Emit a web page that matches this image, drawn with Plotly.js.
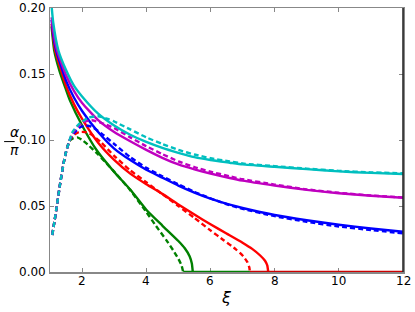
<!DOCTYPE html>
<html>
<head>
<meta charset="utf-8">
<script src="https://cdn.plot.ly/plotly-3.0.1.min.js"></script>
<style>html,body{margin:0;padding:0;background:#fff;}#chart{width:415px;height:312px;}</style>
</head>
<body>
<div id="chart"></div>
<script>
// ---- data (xi, alpha/pi) ----
const cyanSolidX = [1.03, 1.1, 1.26, 1.5, 1.75, 2.0, 2.5, 3.0, 3.5, 4.0, 4.5, 5.0, 5.5, 6.0, 6.6, 7.0, 8.0, 9.0, 10, 11, 12];
const cyanSolidY = [0.207, 0.189, 0.168, 0.153, 0.141, 0.133, 0.120, 0.111, 0.104, 0.0985, 0.094, 0.0903, 0.0870, 0.0848, 0.0828, 0.0815, 0.0797, 0.0779, 0.0762, 0.0751, 0.0742];
const cyanDashX = [1.07, 1.15, 1.21, 1.31, 1.42, 1.5, 1.6, 1.7, 1.9, 2.2, 2.5, 2.8, 3.0, 3.5, 4.0, 4.5, 5.0, 5.5, 6.0, 6.6, 7.0, 8.0, 9.0, 10, 11, 12];
const cyanDashY = [0.028, 0.040, 0.0495, 0.066, 0.082, 0.091, 0.099, 0.106, 0.112, 0.117, 0.118, 0.116, 0.114, 0.108, 0.102, 0.0970, 0.0925, 0.0890, 0.0862, 0.0838, 0.0822, 0.0802, 0.0783, 0.0766, 0.0755, 0.0747];

const magentaSolidX = [1.05, 1.1, 1.22, 1.5, 1.75, 2.0, 2.5, 3.0, 3.5, 4.0, 4.5, 5.0, 5.5, 6.0, 6.6, 7.0, 8.0, 9.0, 10, 11, 12];
const magentaSolidY = [0.193, 0.183, 0.168, 0.149, 0.137, 0.128, 0.115, 0.106, 0.099, 0.0925, 0.0865, 0.0815, 0.0778, 0.0746, 0.0712, 0.0692, 0.0655, 0.0622, 0.0597, 0.0578, 0.0563];
const magentaDashX = [1.07, 1.15, 1.21, 1.31, 1.42, 1.5, 1.6, 1.7, 1.9, 2.1, 2.3, 2.6, 3.0, 3.5, 4.0, 4.5, 5.0, 5.5, 6.0, 6.6, 7.0, 8.0, 9.0, 10, 11, 12];
const magentaDashY = [0.028, 0.040, 0.0495, 0.066, 0.082, 0.091, 0.099, 0.105, 0.111, 0.114, 0.115, 0.113, 0.109, 0.102, 0.0953, 0.0893, 0.0838, 0.0795, 0.0760, 0.0725, 0.0703, 0.0662, 0.0626, 0.0600, 0.0580, 0.0565];

const blueSolidX = [1.05, 1.1, 1.19, 1.5, 1.75, 2.0, 2.5, 3.0, 3.5, 4.0, 4.5, 5.0, 5.5, 6.0, 6.6, 7.0, 8.0, 9.0, 10, 11, 12];
const blueSolidY = [0.191, 0.180, 0.168, 0.145, 0.132, 0.122, 0.106, 0.0935, 0.0848, 0.0775, 0.0715, 0.0655, 0.0602, 0.0556, 0.0510, 0.0485, 0.0432, 0.0392, 0.0358, 0.0330, 0.0305];
const blueDashX = [1.07, 1.15, 1.21, 1.31, 1.42, 1.5, 1.6, 1.7, 1.9, 2.1, 2.3, 2.6, 3.0, 3.5, 4.0, 4.5, 5.0, 5.5, 6.0, 6.6, 7.0, 8.0, 9.0, 10, 11, 12];
const blueDashY = [0.028, 0.040, 0.0495, 0.066, 0.082, 0.091, 0.099, 0.104, 0.109, 0.111, 0.110, 0.105, 0.097, 0.087, 0.079, 0.0725, 0.0665, 0.0607, 0.0558, 0.0506, 0.0478, 0.0423, 0.0380, 0.0345, 0.0318, 0.0293];

const redSolidX = [1.05, 1.1, 1.16, 1.5, 1.75, 2.0, 2.5, 3.0, 3.5, 4.0, 4.5, 5.0, 5.5, 6.0, 6.5, 7.0, 7.3, 7.55, 7.7, 7.77, 7.8];
const redSolidY = [0.188, 0.178, 0.168, 0.141, 0.127, 0.116, 0.098, 0.085, 0.0745, 0.0665, 0.0592, 0.0512, 0.0435, 0.0362, 0.0292, 0.0222, 0.0175, 0.0125, 0.0085, 0.0050, 0.0];
const redDashX = [1.07, 1.15, 1.21, 1.31, 1.42, 1.5, 1.6, 1.7, 1.9, 2.1, 2.3, 2.6, 3.0, 3.5, 4.0, 4.5, 5.0, 5.5, 6.0, 6.4, 6.8, 7.0, 7.15, 7.21, 7.23];
const redDashY = [0.028, 0.040, 0.0495, 0.066, 0.082, 0.091, 0.099, 0.103, 0.106, 0.106, 0.104, 0.098, 0.088, 0.077, 0.068, 0.059, 0.050, 0.041, 0.0315, 0.0243, 0.0170, 0.0125, 0.0075, 0.0035, 0.0];
const redZeroX = [7.23, 12];
const redZeroY = [0, 0];

const greenSolidX = [1.05, 1.13, 1.3, 1.5, 1.62, 2.0, 2.45, 3.0, 3.5, 4.0, 4.5, 5.0, 5.2, 5.35, 5.42, 5.45];
const greenSolidY = [0.186, 0.168, 0.152, 0.138, 0.130, 0.111, 0.0924, 0.0758, 0.0625, 0.0472, 0.0352, 0.0235, 0.0180, 0.0120, 0.0065, 0.0];
const greenDashX = [1.07, 1.15, 1.21, 1.31, 1.42, 1.5, 1.6, 1.7, 1.85, 2.0, 2.2, 2.5, 3.0, 3.5, 4.0, 4.3, 4.63, 4.85, 5.0, 5.1, 5.15];
const greenDashY = [0.028, 0.040, 0.0495, 0.066, 0.082, 0.091, 0.099, 0.101, 0.102, 0.100, 0.096, 0.089, 0.076, 0.062, 0.0455, 0.035, 0.024, 0.016, 0.010, 0.005, 0.0];
const greenZeroX = [5.15, 7.23];
const greenZeroY = [0, 0];

const xTicks = [2, 4, 6, 8, 10, 12];
const xTickText = ['2', '4', '6', '8', '10', '12'];
const yTicks = [0.00, 0.05, 0.10, 0.15, 0.20];
const yTickText = ['0.00', '0.05', '0.10', '0.15', '0.20'];

const C = {c: '#00BFBF', m: '#BF00BF', b: '#0000FF', r: '#FF0000', g: '#008000'};
function tr(x, y, color, dashed) {
  return {x: x, y: y, type: 'scatter', mode: 'lines', hoverinfo: 'skip',
    line: {color: color, width: 2.4, dash: dashed ? '5px,3px' : 'solid', shape: 'spline', smoothing: 0.5}};
}
const data = [
  tr(greenSolidX, greenSolidY, C.g, false), tr(greenDashX, greenDashY, C.g, true),
  tr(greenZeroX, greenZeroY, C.g, false),
  tr(redSolidX, redSolidY, C.r, false), tr(redDashX, redDashY, C.r, true),
  tr(redZeroX, redZeroY, '#CC0000', false),
  tr(blueSolidX, blueSolidY, C.b, false), tr(blueDashX, blueDashY, C.b, true),
  tr(magentaSolidX, magentaSolidY, C.m, false), tr(magentaDashX, magentaDashY, C.m, true),
  tr(cyanSolidX, cyanSolidY, C.c, false), tr(cyanDashX, cyanDashY, C.c, true)
];
const tickFont = {family: 'DejaVu Sans', size: 12, color: '#000'};
const annotations = [];
xTicks.forEach((v, i) => annotations.push({text: xTickText[i], xref: 'x', yref: 'paper', x: v, y: -0.034,
  xanchor: 'center', yanchor: 'middle', showarrow: false, font: tickFont}));
yTicks.forEach((v, i) => annotations.push({text: yTickText[i], xref: 'paper', yref: 'y', x: -0.006, y: v,
  xanchor: 'right', yanchor: 'middle', showarrow: false, font: tickFont}));
annotations.push(
  {text: '<i>ξ</i>', xref: 'paper', yref: 'paper', x: 0.5, y: -0.098, yanchor: 'middle', showarrow: false,
    font: {family: 'DejaVu Sans', size: 16, color: '#000'}},
  {text: '<i>α</i>', xref: 'paper', yref: 'paper', x: -0.115, y: 0.530, yanchor: 'middle', showarrow: false,
    borderpad: 0, font: {family: 'DejaVu Sans', size: 14, color: '#000'}},
  {text: '<i>π</i>', xref: 'paper', yref: 'paper', x: -0.115, y: 0.462, yanchor: 'middle', showarrow: false,
    borderpad: 0, font: {family: 'DejaVu Sans', size: 14, color: '#000'}}
);
const layout = {
  width: 415, height: 312,
  margin: {l: 50, r: 12, t: 8, b: 40, pad: 0},
  paper_bgcolor: '#fff', plot_bgcolor: '#fff',
  showlegend: false,
  xaxis: {range: [1, 12], tickvals: xTicks, ticks: 'inside', ticklen: 4, showticklabels: false,
    tickcolor: '#888', showline: true, linecolor: '#888', linewidth: 1.5, mirror: 'ticks',
    showgrid: false, zeroline: false, layer: 'below traces'},
  yaxis: {range: [0, 0.2], tickvals: yTicks, ticks: 'inside', ticklen: 4, showticklabels: false,
    tickcolor: '#888', showline: true, linecolor: '#888', linewidth: 1.5, mirror: 'ticks',
    showgrid: false, zeroline: false, layer: 'below traces'},
  shapes: [
    {type: 'line', xref: 'paper', yref: 'paper', x0: 1, x1: 1, y0: 0, y1: 1, line: {color: '#222', width: 1.5}},
    {type: 'line', xref: 'paper', yref: 'paper', x0: -0.130, x1: -0.100, y0: 0.494, y1: 0.494, line: {color: '#000', width: 1}}
  ],
  annotations: annotations
};
Plotly.newPlot('chart', data, layout, {staticPlot: true, displayModeBar: false});
</script>
</body>
</html>
